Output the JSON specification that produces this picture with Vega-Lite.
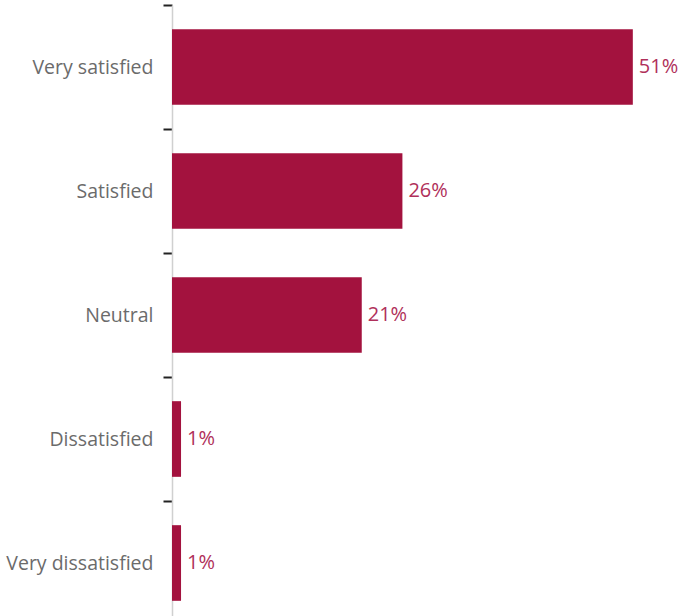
{
  "$schema": "https://vega.github.io/schema/vega-lite/v6.json",
  "width": 506,
  "height": 620,
  "autosize": {"type": "none"},
  "padding": {"left": 172, "top": 5, "right": 4, "bottom": 0},
  "background": "white",
  "config": {"view": {"stroke": null}, "font": "Open Sans"},
  "data": {"values": [
    {"category": "Very satisfied", "value": 51, "label": "51%"},
    {"category": "Satisfied", "value": 25.5, "label": "26%"},
    {"category": "Neutral", "value": 21, "label": "21%"},
    {"category": "Dissatisfied", "value": 1, "label": "1%"},
    {"category": "Very dissatisfied", "value": 1, "label": "1%"}
  ]},
  "encoding": {
    "y": {"field": "category", "type": "nominal", "sort": null,
      "scale": {"paddingInner": 0, "paddingOuter": 0},
      "axis": {"title": null, "domainColor": "#d0d0d0", "domainWidth": 1.5, "tickColor": "#222222", "tickSize": 9, "tickWidth": 2, "tickBand": "extent", "labelPadding": 10, "labelFontSize": 19.5, "labelColor": "#6b6b6b", "labelFont": "Open Sans"}},
    "x": {"field": "value", "type": "quantitative", "scale": {"domain": [0, 56]}, "axis": null}
  },
  "layer": [
    {"mark": {"type": "bar", "color": "#A3123E", "height": {"band": 0.61}}},
    {"mark": {"type": "text", "align": "left", "dx": 6, "fontSize": 20, "color": "#B0305A", "font": "Open Sans"},
     "encoding": {"text": {"field": "label"}}}
  ]
}
